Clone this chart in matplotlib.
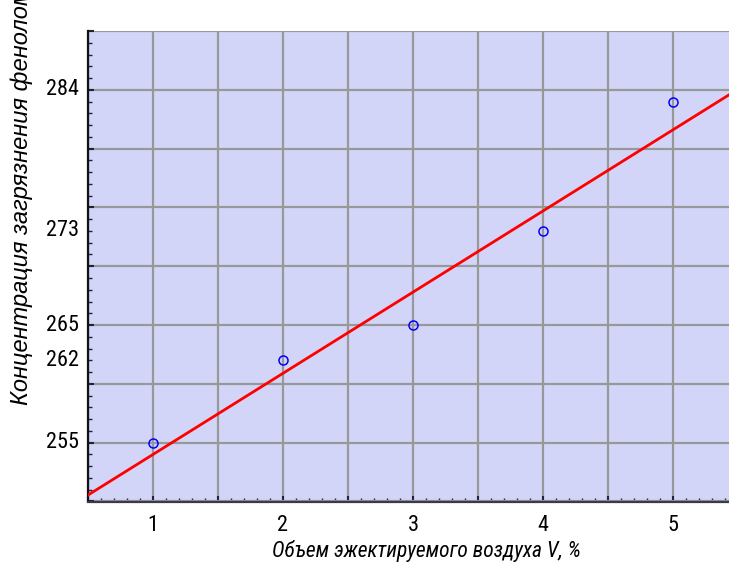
import numpy as np
import matplotlib
matplotlib.use('Agg')
import matplotlib.pyplot as plt
from matplotlib.ticker import MultipleLocator

# Volume of ejected air, % and phenol concentration
volume = [1, 2, 3, 4, 5]
concentration = [255, 262, 265, 273, 284]

# y tick positions and their printed labels
ytick_pos = [255, 262, 265, 273, 285]
ytick_labels = ['255', '262', '265', '273', '284']
xtick_pos = [1, 2, 3, 4, 5]

narrow = ['Roboto Condensed', 'Liberation Sans', 'DejaVu Sans']

fig = plt.figure(figsize=(7.29, 5.65), dpi=100)
ax = fig.add_axes([88 / 729, 63.5 / 565, 1 - 88 / 729, 470.5 / 565])
ax.set_facecolor('#d3d5f8')

ax.set_xlim(0.5, 0.5 + 641 / 130)
ax.set_ylim(250, 290)

# grid every 0.5 on x and every 5 on y
ax.xaxis.set_major_locator(MultipleLocator(0.5))
ax.yaxis.set_major_locator(MultipleLocator(5))
ax.xaxis.set_minor_locator(MultipleLocator(0.1))
ax.yaxis.set_minor_locator(MultipleLocator(1))
ax.grid(True, which='major', color='#989898', linewidth=1.6, zorder=1)
ax.set_axisbelow(True)
ax.tick_params(which='major', direction='in', length=4, width=1.5, color='#222233',
               labelbottom=False, labelleft=False)
ax.tick_params(which='minor', direction='in', length=3, width=1, color='#222233')

for s in ['top', 'right']:
    ax.spines[s].set_visible(False)
ax.spines['left'].set_linewidth(1.6)
ax.spines['left'].set_color('#111111')
ax.spines['bottom'].set_linewidth(1.6)
ax.spines['bottom'].set_color('#3a3a4a')

# tick labels drawn as text at their own positions
for v in xtick_pos:
    ax.text(v, -0.029, str(v), transform=ax.get_xaxis_transform(), ha='center', va='top',
            fontsize=16, family=narrow)
for p, lab in zip(ytick_pos, ytick_labels):
    ax.text(-0.014, p, lab, transform=ax.get_yaxis_transform(), ha='right', va='center',
            fontsize=16, family=narrow)

# linear regression line across the whole axis
k, b = np.polyfit(volume, concentration, 1)
xs = np.array(ax.get_xlim())
ax.plot(xs, k * xs + b, color='#ff0000', linewidth=2, zorder=3)

ax.plot(volume, concentration, 'o', markersize=6.5, markerfacecolor='none',
        markeredgecolor='#0000ff', markeredgewidth=1.1, zorder=4)

fig.text(272 / 729, 3 / 565, 'Объем эжектируемого воздуха V, %', ha='left', va='bottom',
         fontsize=15.5, style='italic', family=narrow)
fig.text(22 / 729, 160 / 565, 'Концентрация загрязнения фенолом', rotation=90,
         ha='center', va='bottom', fontsize=17, style='italic',
         family=['Liberation Sans', 'DejaVu Sans'])

fig.savefig('out.png', dpi=100)
